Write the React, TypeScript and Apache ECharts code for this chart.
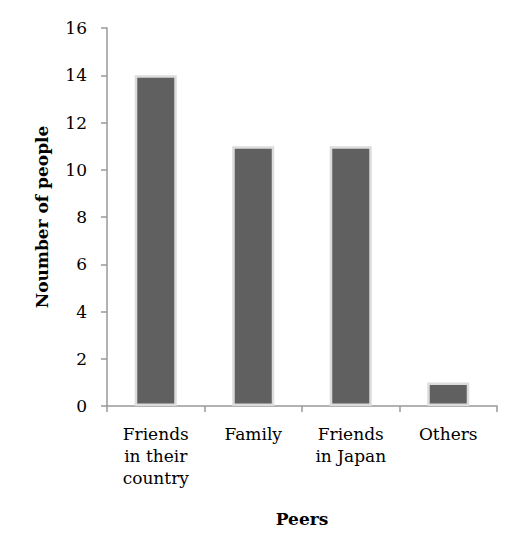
import React, { useEffect, useRef } from "react";
import * as echarts from "echarts";

const categories = ["Friends\nin their\ncountry", "Family", "Friends\nin Japan", "Others"];
const values = [14, 11, 11, 1];
const yTicks = { min: 0, max: 16, interval: 2 };

const FONT = "'DejaVu Serif', 'Liberation Serif', serif";

export default function App() {
  const ref = useRef<HTMLDivElement>(null);
  useEffect(() => {
    const chart = echarts.init(ref.current!, null, { renderer: "svg" });
    chart.setOption({
      animation: false,
      textStyle: { fontFamily: FONT },
      grid: { left: 99, right: 21, top: 20, bottom: 144 },
      xAxis: {
        type: "category",
        data: categories,
        name: "Peers",
        nameLocation: "middle",
        nameGap: 104,
        nameTextStyle: { fontFamily: FONT, fontSize: 17, fontWeight: "bold", color: "#000" },
        axisLine: { lineStyle: { color: "#999", width: 1.5 } },
        axisTick: { show: true, length: 6, lineStyle: { color: "#999", width: 1.5 } },
        axisLabel: { fontFamily: FONT, fontSize: 17, color: "#000", margin: 17, lineHeight: 22 },
      },
      yAxis: {
        type: "value",
        min: yTicks.min,
        max: yTicks.max,
        interval: yTicks.interval,
        name: "Noumber of people",
        nameLocation: "middle",
        nameGap: 57,
        nameTextStyle: { fontFamily: FONT, fontSize: 17, fontWeight: "bold", color: "#000" },
        axisLine: { show: true, lineStyle: { color: "#999", width: 1.5 } },
        axisTick: { show: true, length: 6, lineStyle: { color: "#999", width: 1.5 } },
        splitLine: { show: false },
        axisLabel: { fontFamily: FONT, fontSize: 17, color: "#000", margin: 20 },
      },
      series: [
        {
          type: "bar",
          data: values,
          barWidth: 42,
          itemStyle: { color: "#606060", borderColor: "#dcdcdc", borderWidth: 2.5 },
        },
      ],
    });
    return () => chart.dispose();
  }, []);
  return <div ref={ref} style={{ width: 510, height: 542 }} />;
}
